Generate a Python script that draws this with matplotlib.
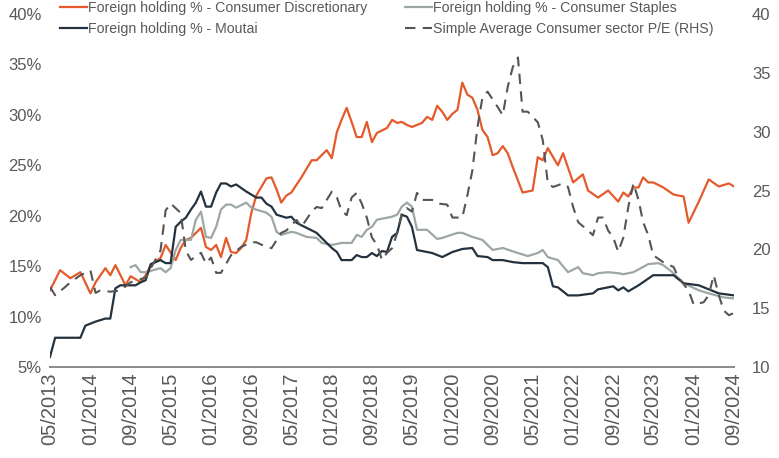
import matplotlib
matplotlib.use("Agg")
import matplotlib.pyplot as plt
import matplotlib.dates as mdates
from matplotlib.ticker import FuncFormatter, FixedLocator
import pandas as pd

plt.rcParams['font.family'] = ['Liberation Sans', 'DejaVu Sans']

# 外资持股 % - 茅台
moutai_dates = ['2013-05', '2013-06', '2013-11', '2013-12', '2014-02', '2014-04', '2014-05', '2014-06',
                '2014-07', '2014-10', '2014-11', '2014-12', '2015-01', '2015-03', '2015-04', '2015-05',
                '2015-06', '2015-07', '2015-08', '2015-09', '2015-10', '2015-11', '2015-12', '2016-01',
                '2016-02', '2016-03', '2016-04', '2016-05', '2016-06', '2016-08', '2016-10', '2016-11',
                '2016-12', '2017-01', '2017-02', '2017-04', '2017-05', '2017-06', '2017-08', '2017-10',
                '2017-12', '2018-01', '2018-02', '2018-03', '2018-05', '2018-06', '2018-07', '2018-08',
                '2018-09', '2018-10', '2018-11', '2018-12', '2019-01', '2019-02', '2019-03', '2019-04',
                '2019-05', '2019-06', '2019-09', '2019-11', '2020-01', '2020-03', '2020-05', '2020-06',
                '2020-08', '2020-09', '2020-11', '2021-01', '2021-03', '2021-07', '2021-08', '2021-09',
                '2021-10', '2021-12', '2022-02', '2022-05', '2022-06', '2022-09', '2022-10', '2022-11',
                '2022-12', '2023-02', '2023-05', '2023-09', '2023-11', '2024-02', '2024-06', '2024-09']
moutai_vals = [6.0, 7.9, 7.9, 9.1, 9.5, 9.8, 9.8, 12.8,
               13.1, 13.1, 13.4, 13.6, 15.2, 15.6, 15.3, 15.3,
               18.9, 19.4, 19.8, 20.6, 21.3, 22.4, 20.9, 20.9,
               22.3, 23.2, 23.2, 22.9, 23.1, 22.4, 21.8, 21.8,
               21.2, 20.9, 20.1, 19.8, 19.9, 19.3, 18.8, 18.3,
               17.3, 16.8, 16.4, 15.6, 15.6, 16.1, 15.9, 15.9,
               16.3, 16.0, 16.5, 16.4, 17.9, 18.3, 20.1, 19.9,
               18.9, 16.6, 16.3, 15.9, 16.4, 16.7, 16.8, 16.0,
               15.9, 15.6, 15.6, 15.4, 15.3, 15.3, 14.9, 13.0,
               12.9, 12.1, 12.1, 12.3, 12.7, 13.0, 12.6, 12.9,
               12.5, 13.1, 14.1, 14.1, 13.3, 13.1, 12.3, 12.1]

# 外资持股 % - 可选消费
disc_dates = ['2013-05', '2013-07', '2013-09', '2013-11', '2014-01', '2014-02', '2014-04', '2014-05',
              '2014-06', '2014-08', '2014-09', '2014-11', '2014-12', '2015-01', '2015-03', '2015-04',
              '2015-06', '2015-07', '2015-08', '2015-09', '2015-11', '2015-12', '2016-01', '2016-02',
              '2016-03', '2016-04', '2016-05', '2016-06', '2016-07', '2016-08', '2016-09', '2016-10',
              '2016-12', '2017-01', '2017-02', '2017-03', '2017-04', '2017-05', '2017-07', '2017-09',
              '2017-10', '2017-12', '2018-01', '2018-02', '2018-03', '2018-04', '2018-05', '2018-06',
              '2018-07', '2018-08', '2018-09', '2018-10', '2018-12', '2019-01', '2019-02', '2019-03',
              '2019-04', '2019-05', '2019-07', '2019-08', '2019-09', '2019-10', '2019-11', '2019-12',
              '2020-01', '2020-02', '2020-03', '2020-04', '2020-05', '2020-06', '2020-07', '2020-08',
              '2020-09', '2020-10', '2020-11', '2020-12', '2021-01', '2021-03', '2021-05', '2021-06',
              '2021-07', '2021-08', '2021-10', '2021-11', '2022-01', '2022-03', '2022-04', '2022-06',
              '2022-08', '2022-10', '2022-11', '2022-12', '2023-01', '2023-02', '2023-03', '2023-04',
              '2023-05', '2023-07', '2023-09', '2023-11', '2023-12', '2024-02', '2024-04', '2024-06',
              '2024-08', '2024-09']
disc_vals = [12.6, 14.6, 13.8, 14.4, 12.3, 13.4, 14.8, 14.1,
             15.1, 13.1, 14.0, 13.4, 14.1, 15.1, 15.8, 17.1,
             15.6, 16.8, 17.6, 17.8, 18.8, 16.9, 16.6, 17.1,
             15.9, 17.8, 16.4, 16.3, 16.8, 17.6, 20.3, 22.0,
             23.7, 23.8, 22.6, 21.3, 22.0, 22.3, 23.8, 25.5,
             25.5, 26.5, 25.7, 28.3, 29.5, 30.7, 29.3, 27.8,
             27.8, 29.3, 27.3, 28.2, 28.7, 29.5, 29.2, 29.3,
             29.0, 28.8, 29.2, 29.8, 29.5, 30.9, 30.3, 29.5,
             30.1, 30.5, 33.2, 32.0, 31.7, 30.5, 28.5, 27.8,
             26.0, 26.2, 26.9, 26.2, 24.8, 22.3, 22.5, 25.8,
             25.5, 26.7, 25.0, 26.2, 23.3, 24.1, 22.5, 21.8,
             22.5, 21.4, 22.3, 21.9, 22.8, 22.8, 23.8, 23.3,
             23.3, 22.8, 22.1, 21.9, 19.3, 21.4, 23.6, 22.9,
             23.2, 22.9]

# 外资持股 % - 必选消费
staples_dates = ['2014-09', '2014-10', '2014-11', '2014-12', '2015-03', '2015-04', '2015-05', '2015-06',
                 '2015-07', '2015-09', '2015-10', '2015-11', '2015-12', '2016-01', '2016-02', '2016-03',
                 '2016-04', '2016-05', '2016-06', '2016-08', '2016-09', '2016-10', '2016-12', '2017-01',
                 '2017-02', '2017-03', '2017-05', '2017-06', '2017-08', '2017-10', '2017-11', '2018-01',
                 '2018-03', '2018-05', '2018-06', '2018-07', '2018-08', '2018-09', '2018-10', '2018-12',
                 '2019-01', '2019-02', '2019-03', '2019-04', '2019-05', '2019-06', '2019-08', '2019-10',
                 '2019-11', '2020-02', '2020-03', '2020-05', '2020-07', '2020-09', '2020-11', '2021-02',
                 '2021-04', '2021-06', '2021-07', '2021-08', '2021-10', '2021-12', '2022-02', '2022-03',
                 '2022-05', '2022-06', '2022-08', '2022-10', '2022-11', '2023-01', '2023-04', '2023-06',
                 '2023-07', '2023-09', '2023-11', '2024-02', '2024-04', '2024-07', '2024-09']
staples_vals = [14.9, 15.1, 14.4, 14.4, 14.8, 14.4, 14.8, 16.6,
                17.6, 17.6, 19.6, 20.4, 17.9, 17.8, 18.9, 20.6,
                21.1, 21.1, 20.8, 21.3, 20.8, 20.6, 20.3, 19.9,
                18.4, 18.1, 18.4, 18.3, 17.9, 17.8, 17.3, 17.1,
                17.3, 17.3, 18.1, 17.9, 18.6, 18.9, 19.6, 19.8,
                19.9, 20.1, 20.9, 21.3, 20.9, 18.6, 18.6, 17.7,
                17.8, 18.3, 18.3, 17.9, 17.6, 16.6, 16.8, 16.3,
                16.0, 16.3, 16.6, 15.9, 15.6, 14.4, 14.9, 14.3,
                14.1, 14.3, 14.4, 14.3, 14.2, 14.4, 15.2, 15.3,
                15.1, 14.3, 13.3, 12.6, 12.3, 11.9, 11.8]

# 消费板块简单平均市盈率 (右轴)
pe_dates = ['2013-05', '2013-06', '2013-08', '2013-09', '2013-11', '2014-01', '2014-02', '2014-03',
            '2014-05', '2014-07', '2014-09', '2014-12', '2015-03', '2015-04', '2015-05', '2015-07',
            '2015-08', '2015-09', '2015-11', '2015-12', '2016-01', '2016-02', '2016-03', '2016-05',
            '2016-07', '2016-09', '2016-10', '2016-12', '2017-01', '2017-03', '2017-04', '2017-06',
            '2017-07', '2017-09', '2017-10', '2017-11', '2018-01', '2018-02', '2018-03', '2018-04',
            '2018-05', '2018-06', '2018-07', '2018-08', '2018-09', '2018-10', '2018-11', '2018-12',
            '2019-01', '2019-02', '2019-03', '2019-04', '2019-05', '2019-06', '2019-07', '2019-09',
            '2019-10', '2019-12', '2020-01', '2020-03', '2020-04', '2020-05', '2020-06', '2020-07',
            '2020-08', '2020-10', '2020-11', '2020-12', '2021-01', '2021-02', '2021-03', '2021-04',
            '2021-06', '2021-07', '2021-08', '2021-09', '2021-11', '2021-12', '2022-01', '2022-02',
            '2022-04', '2022-05', '2022-06', '2022-07', '2022-08', '2022-09', '2022-10', '2022-11',
            '2022-12', '2023-01', '2023-02', '2023-03', '2023-04', '2023-05', '2023-07', '2023-09',
            '2023-10', '2023-12', '2024-01', '2024-03', '2024-04', '2024-05', '2024-06', '2024-07',
            '2024-08', '2024-09']
pe_vals = [16.8, 16.1, 16.8, 17.2, 17.8, 18.2, 16.3, 16.5,
           16.4, 16.5, 17.2, 17.6, 19.9, 23.3, 23.9, 23.1,
           19.9, 19.1, 19.7, 18.8, 19.3, 18.0, 18.0, 19.5,
           20.2, 20.6, 20.6, 20.2, 20.1, 21.4, 21.6, 22.5,
           21.9, 23.2, 23.6, 23.5, 24.9, 24.4, 23.3, 22.9,
           24.4, 24.8, 23.9, 22.7, 21.0, 20.4, 19.1, 19.7,
           20.1, 21.4, 23.1, 23.5, 23.2, 24.8, 24.2, 24.2,
           23.9, 23.8, 22.7, 22.7, 24.6, 26.7, 30.4, 32.9,
           33.4, 32.1, 31.4, 33.8, 35.5, 36.3, 31.7, 31.7,
           30.8, 29.3, 25.6, 25.3, 25.6, 25.3, 23.6, 22.3,
           21.6, 21.2, 22.7, 22.7, 21.6, 21.0, 19.8, 21.0,
           23.6, 25.6, 24.2, 22.3, 21.2, 19.5, 18.9, 18.5,
           17.6, 16.5, 15.3, 15.5, 16.1, 17.8, 16.1, 14.8,
           14.4, 14.6]

left_ticks = [5, 10, 15, 20, 25, 30, 35, 40]
right_ticks = [10, 15, 20, 25, 30, 35, 40]

labels = ['Foreign holding % - Consumer Discretionary',
          'Foreign holding % - Consumer Staples',
          'Foreign holding % - Moutai',
          'Simple Average Consumer sector P/E (RHS)']

c_disc = '#e45a2b'
c_staples = '#9da7a3'
c_moutai = '#23323e'
c_pe = '#555555'
c_text = '#595959'

fig = plt.figure(figsize=(7.79, 4.58), dpi=100)
ax = fig.add_axes([50 / 779, 1 - 367 / 458, (734 - 50) / 779, (367 - 14) / 458])
ax2 = ax.twinx()

l1, = ax.plot(pd.to_datetime(disc_dates), disc_vals, color=c_disc, lw=1.6)
l2, = ax.plot(pd.to_datetime(staples_dates), staples_vals, color=c_staples, lw=1.6)
l3, = ax.plot(pd.to_datetime(moutai_dates), moutai_vals, color=c_moutai, lw=1.6)
l4, = ax2.plot(pd.to_datetime(pe_dates), pe_vals, color=c_pe, lw=1.5, dashes=(5, 3.5))

ax.set_xlim(pd.Timestamp('2013-05-01'), pd.Timestamp('2024-09-01'))
ax.set_ylim(5, 40)
ax2.set_ylim(10, 40)

xt = pd.date_range('2013-05-01', '2024-09-01', freq='8MS')
ax.set_xticks(xt)
ax.xaxis.set_major_formatter(mdates.DateFormatter('%m/%Y'))
ax.yaxis.set_major_locator(FixedLocator(left_ticks))
ax.yaxis.set_major_formatter(FuncFormatter(lambda v, p: '%d%%' % v))
ax2.yaxis.set_major_locator(FixedLocator(right_ticks))

for a in (ax, ax2):
    for s in a.spines.values():
        s.set_visible(False)
ax.spines['bottom'].set_visible(True)
ax.spines['bottom'].set_color('#8a8a8a')
ax.spines['bottom'].set_linewidth(1.4)

ax.tick_params(axis='x', length=0, pad=4, labelsize=14.5, labelcolor=c_text, labelrotation=90)
ax.tick_params(axis='y', length=0, pad=6, labelsize=12, labelcolor=c_text)
ax2.tick_params(axis='y', length=0, pad=13, labelsize=12, labelcolor=c_text)

# 图例
fig.legend([l1, l3, l2, l4], [labels[0], labels[2], labels[1], labels[3]],
           loc='upper left', bbox_to_anchor=(60 / 779, 0.998), ncol=2, frameon=False,
           fontsize=10.2, labelcolor=c_text, handlelength=1.9, handletextpad=0.05,
           columnspacing=2.7, labelspacing=0.5, borderpad=0, borderaxespad=0)

fig.savefig('out.png', dpi=100)
